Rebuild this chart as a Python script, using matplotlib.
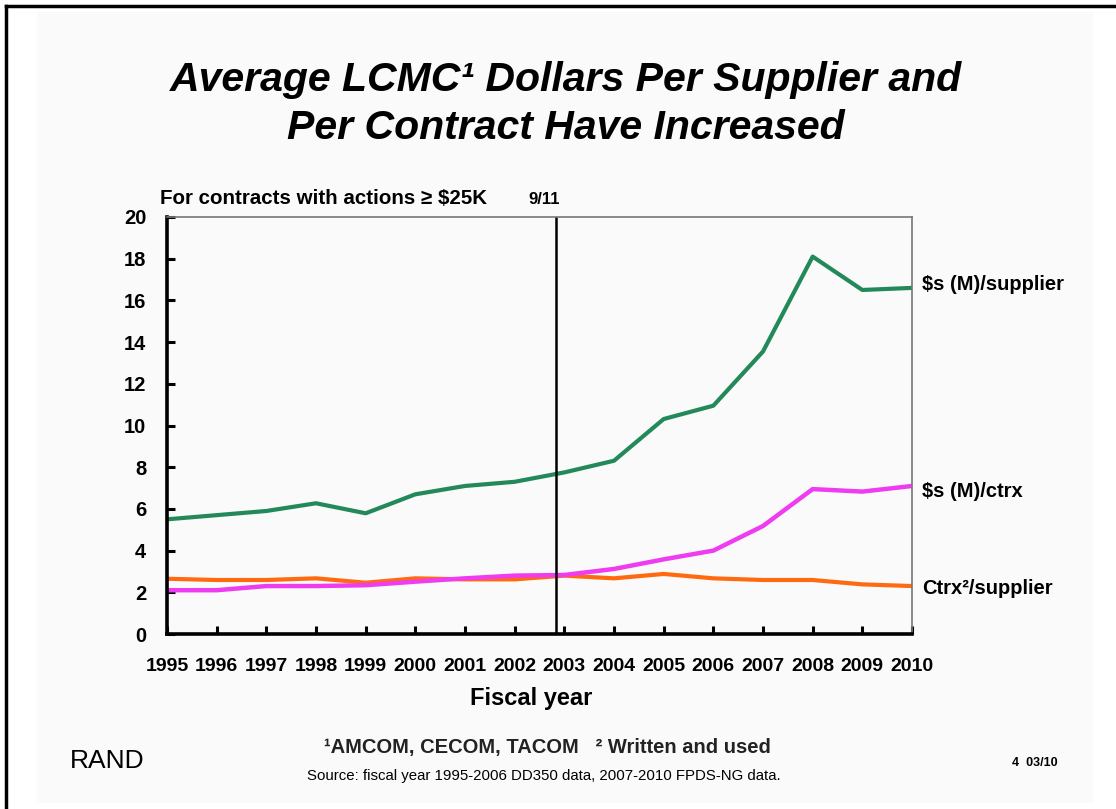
import matplotlib.pyplot as plt
from matplotlib.patches import Rectangle
from matplotlib.lines import Line2D

# data
years = list(range(1995, 2011))
dollars_per_supplier = [5.5, 5.7, 5.9, 6.27, 5.79, 6.7, 7.1, 7.3, 7.75, 8.31,
                        10.31, 10.95, 13.55, 18.1, 16.5, 16.6]
dollars_per_ctrx = [2.1, 2.1, 2.3, 2.3, 2.34, 2.51, 2.67, 2.8, 2.83, 3.12,
                    3.58, 4.0, 5.18, 6.95, 6.83, 7.1]
ctrx_per_supplier = [2.65, 2.59, 2.59, 2.67, 2.46, 2.67, 2.62, 2.62, 2.8, 2.67,
                     2.88, 2.67, 2.59, 2.59, 2.38, 2.3]
series_labels = ["$s (M)/supplier", "$s (M)/ctrx", "Ctrx\u00b2/supplier"]
sept11 = 2002.83

plt.rcParams['font.family'] = ['Liberation Sans', 'DejaVu Sans']

W, H = 1116, 809
fig = plt.figure(figsize=(W / 100, H / 100), dpi=100)
fig.patch.set_facecolor('white')

def fx(px):
    return px / W

def fy(py):
    return 1 - py / H

# slide background and frame
fig.patches.append(Rectangle((fx(37), fy(803)), fx(1093) - fx(37), fy(12) - fy(803),
                             transform=fig.transFigure, facecolor='#fafafa',
                             edgecolor='none', zorder=-5))
fig.lines.append(Line2D([fx(6), 1], [fy(6), fy(6)], transform=fig.transFigure,
                        color='black', lw=2.5))
fig.lines.append(Line2D([fx(6), fx(6)], [fy(6), 0], transform=fig.transFigure,
                        color='black', lw=2.5))

ax = fig.add_axes([fx(167), fy(634), fx(912) - fx(167), fy(217) - fy(634)])
ax.set_zorder(5)
ax.set_facecolor('#fafafa')

ax.plot(years, ctrx_per_supplier, color='#ff6a10', lw=3, solid_capstyle='butt')
ax.plot(years, dollars_per_ctrx, color='#f03cf0', lw=3.2, solid_capstyle='butt')
ax.plot(years, dollars_per_supplier, color='#23895b', lw=3, solid_capstyle='butt')
ax.axvline(sept11, color='black', lw=1.8)

ax.set_xlim(1995, 2010)
ax.set_ylim(0, 20)
ax.set_xticks(years)
ax.set_yticks(range(0, 21, 2))
ax.tick_params(direction='in', length=6, width=2.2)
ax.tick_params(axis='x', labelsize=14, pad=17)
ax.tick_params(axis='y', labelsize=14.5, pad=15)
for lab in ax.get_xticklabels() + ax.get_yticklabels():
    lab.set_fontweight('bold')

for s in ['left', 'bottom']:
    ax.spines[s].set_linewidth(2.6)
    ax.spines[s].set_color('black')
for s in ['top', 'right']:
    ax.spines[s].set_linewidth(1.2)
    ax.spines[s].set_color('#777777')

fig.text(fx(531), fy(699), "Fiscal year", fontsize=17, fontweight='bold',
         ha='center', va='center')

# end labels
ends = [dollars_per_supplier[-1], dollars_per_ctrx[-1], ctrx_per_supplier[-1]]
offsets = [0.14, -0.25, -0.1]
for lab, v, off in zip(series_labels, ends, offsets):
    ax.annotate(lab, xy=(2010, v + off), xytext=(7, 0), textcoords='offset points',
                fontsize=14.5, fontweight='bold', va='center', ha='left',
                annotation_clip=False)

ax.text(2002.6, 20.85, "9/11", fontsize=12, fontweight='bold', ha='center', va='center')
fig.text(fx(160), fy(199), "For contracts with actions \u2265 $25K", fontsize=14.8,
         fontweight='bold', va='center', ha='left')

fig.text(fx(566), fy(80), "Average LCMC\u00b9 Dollars Per Supplier and",
         fontsize=29.5, fontweight='bold', style='italic', ha='center', va='center')
fig.text(fx(566), fy(128), "Per Contract Have Increased",
         fontsize=29.5, fontweight='bold', style='italic', ha='center', va='center')

fig.text(fx(70), fy(761), "RAND", fontsize=19, ha='left', va='center')
fig.text(fx(547), fy(748), "\u00b9AMCOM, CECOM, TACOM   \u00b2 Written and used",
         fontsize=14.5, fontweight='bold', ha='center', va='center', color='#222222')
fig.text(fx(544), fy(776), "Source: fiscal year 1995-2006 DD350 data, 2007-2010 FPDS-NG data.",
         fontsize=10.8, ha='center', va='center')
fig.text(fx(1035), fy(763), "4  03/10", fontsize=9, fontweight='bold',
         ha='center', va='center')

fig.savefig("out.png", dpi=100)
